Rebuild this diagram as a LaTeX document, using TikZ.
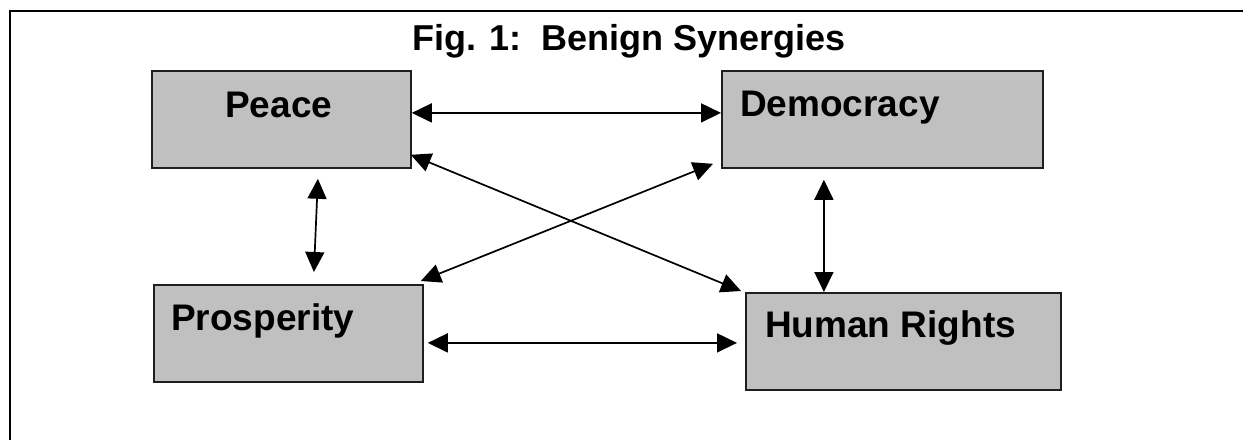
\documentclass[tikz,border=0pt]{standalone}
\usepackage{fontspec}
\setmainfont{Liberation Sans}
\usetikzlibrary{arrows.meta}
\definecolor{boxgray}{RGB}{192,192,192}
\definecolor{boxline}{RGB}{30,30,30}
\tikzset{
  box/.style={draw=boxline, fill=boxgray, line width=1.8pt, rectangle, inner sep=0pt, anchor=north west},
  lbl/.style={anchor=base west, inner sep=0pt, font=\bfseries\fontsize{37pt}{40pt}\selectfont},
  ttl/.style={anchor=base west, inner sep=0pt, font=\bfseries\fontsize{36pt}{40pt}\selectfont},
  link/.style={line width=1.7pt, {Triangle[length=20pt,width=19pt]}-{Triangle[length=20pt,width=19pt]}},
  frame/.style={line width=2.2pt}
}
\begin{document}
\begin{tikzpicture}[x=1pt,y=-1pt]
\useasboundingbox (0,0) rectangle (1243,440);
% frame
\coordinate (fr) at (1243,11);
\coordinate (fc) at (10,11);
\coordinate (fb) at (10,440);
\draw[frame] (fr) -- (fc) -- (fb);
% title
\node[ttl] (title) at (412,50) {Fig. 1:\ \ Benign Synergies};
% boxes
\node[box, minimum width=259pt, minimum height=97pt] (peace) at (151,70) {};
\node[box, minimum width=321pt, minimum height=97pt] (demo) at (721,70) {};
\node[box, minimum width=269pt, minimum height=97pt] (pros) at (153,284) {};
\node[box, minimum width=315pt, minimum height=97pt] (hr) at (745,292) {};
% labels
\node[lbl] (tpeace) at (225,117) {Peace};
\node[lbl] (tdemo) at (740,116) {Democracy};
\node[lbl] (tpros) at (171,330) {Prosperity};
\node[lbl] (thr) at (765,337) {Human Rights};
% connectors
\draw[link] ([yshift=6.5pt]peace.east) -- ([yshift=6.5pt]demo.west);
\draw[link] ([xshift=4pt,yshift=-9.5pt]pros.east) -- ([xshift=-8pt,yshift=-1.5pt]hr.west);
\draw[link] ([xshift=36.5pt,yshift=-10pt]peace.south) -- ([xshift=25.5pt,yshift=12pt]pros.north);
\draw[link] ([xshift=-58.5pt,yshift=-11pt]demo.south) -- ([xshift=-79.5pt]hr.north);
\draw[link] ([xshift=-1pt,yshift=14pt]peace.south east) -- ([xshift=-4pt,yshift=1pt]hr.north west);
\draw[link] ([xshift=-8pt,yshift=5pt]demo.south west) -- ([xshift=-3pt,yshift=3pt]pros.north east);
\end{tikzpicture}
\end{document}
